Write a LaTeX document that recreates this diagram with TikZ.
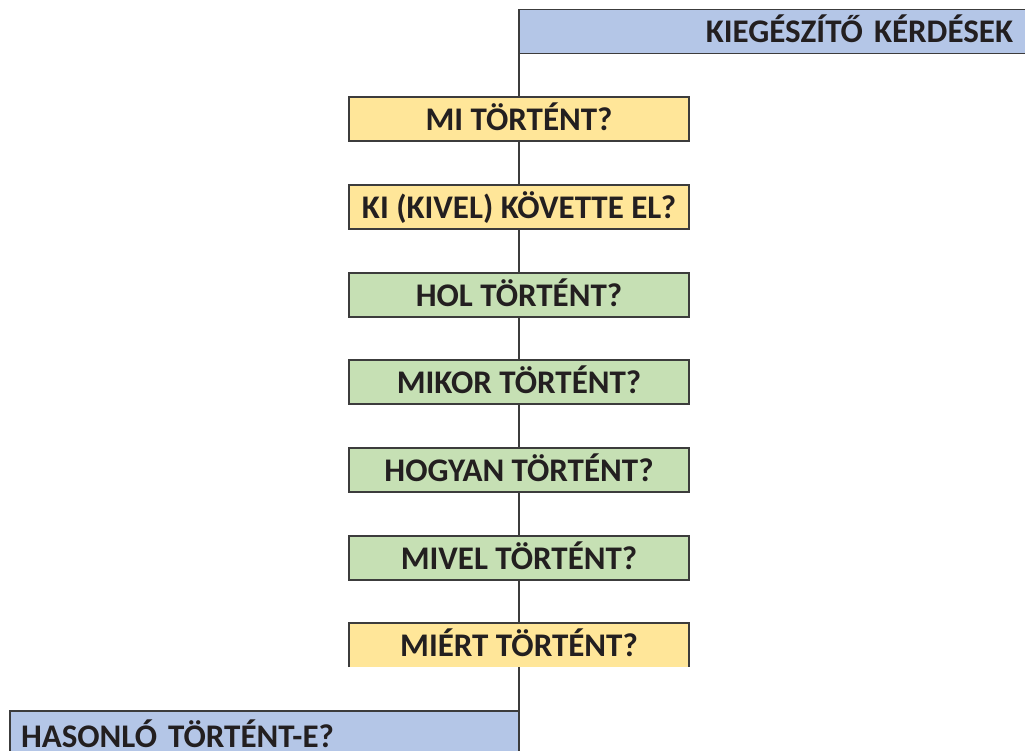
\documentclass[tikz,border=0pt]{standalone}
\usepackage{fontspec}
\setmainfont{Carlito}
\definecolor{lineC}{HTML}{3C3C3C}
\definecolor{txtC}{HTML}{231F20}
\definecolor{blueF}{HTML}{B4C6E7}
\definecolor{yellowF}{HTML}{FFE699}
\definecolor{greenF}{HTML}{C6E0B4}
\tikzset{
  qfont/.style={font=\fontsize{33}{38}\selectfont\bfseries, text=txtC},
  qbox/.style={qfont, draw=lineC, line width=1.6pt, minimum width=340pt, minimum height=44pt,
    inner sep=0pt, outer sep=0pt, text height=23pt, text depth=0pt, anchor=center},
  conn/.style={draw=lineC, line width=1.6pt}
}
\begin{document}
\begin{tikzpicture}[x=1pt,y=-1pt]
\useasboundingbox (0,0) rectangle (1025,751);
\clip (0,0) rectangle (1025,751);
\fill[white] (0,0) rectangle (1025,751);
% top header box
\node[qfont, draw=lineC, line width=1.6pt, fill=blueF, anchor=north west, minimum height=44pt,
  outer sep=0pt, text width=467pt, align=right, inner xsep=27pt, inner ysep=0pt,
  text height=23pt, text depth=0pt]
  (top) at (519,9.5) {KIEGÉSZÍTŐ KÉRDÉSEK};
% bottom box
\node[qfont, draw=lineC, line width=1.6pt, fill=blueF, anchor=north west, outer sep=0pt,
  text width=487pt, align=left, inner xsep=11pt, inner ysep=15pt, text height=21pt, text depth=20pt]
  (bot) at (10,711) {HASONLÓ TÖRTÉNT-E?};
% question boxes
\node[qbox, fill=yellowF] (q1) at (519,119) {MI TÖRTÉNT?};
\node[qbox, fill=yellowF] (q2) at (519,207) {KI (KIVEL) KÖVETTE EL?};
\node[qbox, fill=greenF] (q3) at (519,295) {HOL TÖRTÉNT?};
\node[qbox, fill=greenF] (q4) at (519,382) {MIKOR TÖRTÉNT?};
\node[qbox, fill=greenF] (q5) at (519,470) {HOGYAN TÖRTÉNT?};
\node[qbox, fill=greenF] (q6) at (519,558) {MIVEL TÖRTÉNT?};
\node[qbox, draw=none, fill=yellowF] (q7) at (519,645) {MIÉRT TÖRTÉNT?};
\draw[conn] (q7.south west) -- (q7.north west) -- (q7.north east) -- (q7.south east);
% connectors
\draw[conn] (top.south west) -- (q1.north);
\draw[conn] (q1.south) -- (q2.north);
\draw[conn] (q2.south) -- (q3.north);
\draw[conn] (q3.south) -- (q4.north);
\draw[conn] (q4.south) -- (q5.north);
\draw[conn] (q5.south) -- (q6.north);
\draw[conn] (q6.south) -- (q7.north);
\draw[conn] (q7.south) -- (bot.north east);
\end{tikzpicture}
\end{document}
